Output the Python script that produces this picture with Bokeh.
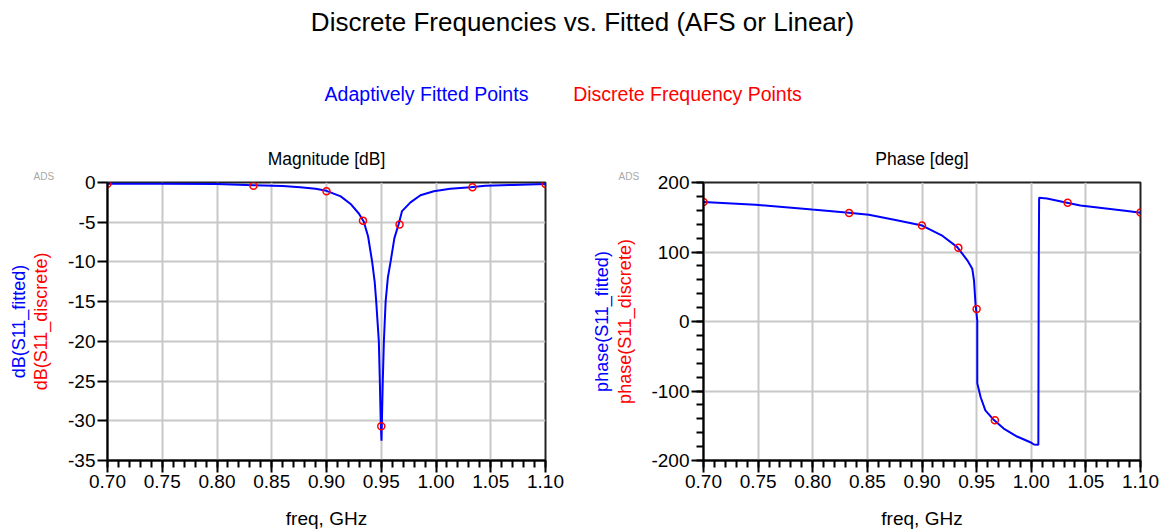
import math
from bokeh.plotting import figure
from bokeh.layouts import column, row
from bokeh.models import (Range1d, Label, Title, SingleIntervalTicker, PrintfTickFormatter)
from bokeh.embed import file_html
from bokeh.resources import INLINE

# ---------------- data ----------------
freq_fit_mag = [0.700, 0.750, 0.800, 0.833, 0.860, 0.876, 0.890, 0.900, 0.913, 0.922,
                0.9295, 0.934, 0.938, 0.9417, 0.944, 0.9454, 0.9478, 0.9487, 0.9495,
                0.9502, 0.9514, 0.9524, 0.954, 0.956, 0.9585, 0.962, 0.966, 0.969,
                0.9767, 0.9858, 0.998, 1.013, 1.0315, 1.045, 1.070, 1.100]
mag_fit = [-0.15, -0.15, -0.2, -0.35, -0.45, -0.6, -0.8, -1.05, -1.75, -2.7,
           -3.9, -4.9, -6.8, -10.0, -12.5, -15.0, -20.0, -25.0, -30.0,
           -32.5, -25.0, -20.0, -15.0, -12.0, -10.0, -7.0, -5.2, -3.6,
           -2.5, -1.6, -1.1, -0.8, -0.6, -0.4, -0.3, -0.2]

freq_fit_ph = [0.700, 0.7476, 0.7995, 0.833, 0.8513, 0.8757, 0.9002, 0.918, 0.9323,
               0.9415, 0.946, 0.9476, 0.949, 0.9506, 0.9506, 0.9537, 0.958, 0.9656,
               0.9748, 0.987, 0.9991, 1.0025, 1.0065, 1.0068, 1.0072, 1.0144, 1.0327,
               1.045, 1.0723, 1.0878, 1.100]
phase_fit = [172, 168, 161, 156.5, 153.5, 146, 138, 124, 107,
             88, 76, 59, 25, 1, -89, -109, -128, -141.5,
             -154, -165.5, -173.7, -177, -177.5, 56, 178, 177, 171,
             167, 162, 159, 156.5]

freq_disc = [0.70, 0.8333, 0.90, 0.9333, 0.95, 0.9667, 1.0333, 1.10]
mag_disc = [-0.15, -0.4, -1.1, -4.8, -30.7, -5.3, -0.6, -0.2]
phase_disc = [172, 156, 138, 106, 18, -142, 171, 157]

x_ticks_interval = 0.05
title_text = "Discrete Frequencies vs. Fitted (AFS or Linear)"
legend_fit = "Adaptively Fitted Points"
legend_disc = "Discrete Frequency Points"

FONT = "Liberation Sans"
BLUE = "#0000ff"
RED = "#ff0000"

# ---------------- header ----------------
hdr = figure(width=1173, height=140, x_range=Range1d(0, 1173), y_range=Range1d(0, 140),
             output_backend="svg", toolbar_location=None, x_axis_type=None, y_axis_type=None,
             min_border=0, outline_line_color=None)
hdr.xgrid.visible = False
hdr.ygrid.visible = False
hdr.add_layout(Label(x=582, y=119, text=title_text, text_align="center", text_baseline="middle",
                     text_font=FONT, text_font_size="26px", text_color="#000000"))
hdr.add_layout(Label(x=426, y=47, text=legend_fit, text_align="center", text_baseline="middle",
                     text_font=FONT, text_font_size="19.5px", text_color=BLUE))
hdr.add_layout(Label(x=687, y=47, text=legend_disc, text_align="center", text_baseline="middle",
                     text_font=FONT, text_font_size="19.5px", text_color=RED))


def make_plot(width, bl, br, yr, y_interval, y_minor, fx, fy, dy, title, lab_fit, lab_disc,
              st_disc, st_fit, ads_off, ytick_len):
    p = figure(width=width, height=391, x_range=Range1d(0.70, 1.10), y_range=Range1d(*yr),
               output_backend="svg", toolbar_location=None, title=None,
               min_border_left=bl, min_border_right=br, min_border_top=42, min_border_bottom=71)
    p.xaxis.ticker = SingleIntervalTicker(interval=x_ticks_interval, num_minor_ticks=5)
    p.xaxis.formatter = PrintfTickFormatter(format="%.2f")
    p.yaxis.ticker = SingleIntervalTicker(interval=y_interval, num_minor_ticks=y_minor)
    p.yaxis.formatter = PrintfTickFormatter(format="%d")
    for ax in (p.xaxis[0], p.yaxis[0]):
        ax.axis_line_color = "#000000"
        ax.axis_line_width = 2
        ax.major_tick_line_color = "#000000"
        ax.major_tick_line_width = 2
        ax.minor_tick_line_color = "#000000"
        ax.minor_tick_line_width = 2
        ax.major_tick_in = 0
        ax.minor_tick_in = 0
        ax.major_label_text_font = FONT
        ax.major_label_text_font_size = "19px"
        ax.major_label_text_color = "#000000"
    p.xaxis.major_tick_out = 12
    p.xaxis.minor_tick_out = 7
    p.xaxis.major_label_standoff = 2
    p.xaxis.axis_label = "freq, GHz"
    p.xaxis.axis_label_text_font = FONT
    p.xaxis.axis_label_text_font_size = "19px"
    p.xaxis.axis_label_text_font_style = "normal"
    p.xaxis.axis_label_text_color = "#000000"
    p.xaxis.axis_label_standoff = 17
    p.yaxis.major_tick_out = ytick_len
    p.yaxis.minor_tick_out = 7
    p.yaxis.major_label_standoff = 2
    # red (discrete) y label as the axis label, blue (fitted) one further out
    p.yaxis.axis_label = lab_disc
    p.yaxis.axis_label_text_font = FONT
    p.yaxis.axis_label_text_font_size = "18px"
    p.yaxis.axis_label_text_font_style = "normal"
    p.yaxis.axis_label_text_color = RED
    p.yaxis.axis_label_standoff = st_disc
    p.xgrid.grid_line_color = "#c8c8c8"
    p.ygrid.grid_line_color = "#c8c8c8"
    p.xgrid.grid_line_width = 2
    p.ygrid.grid_line_width = 2
    p.outline_line_color = "#222222"
    p.outline_line_width = 2

    p.line(fx, fy, line_color=BLUE, line_width=2)
    p.scatter(freq_disc, dy, marker="circle", size=7, line_color=RED, line_width=1.5,
              fill_color=None)

    # small grey "ADS" tag just outside the top-left corner
    p.add_layout(Title(text="ADS", align="left", offset=ads_off, text_font=FONT,
                       text_font_size="10px", text_font_style="normal", text_color="#a8a8a8",
                       standoff=1), "above")
    p.add_layout(Title(text=title, align="center", text_font=FONT, text_font_size="17.5px",
                       text_font_style="normal", text_color="#000000", standoff=0), "above")
    p.add_layout(Title(text=lab_fit, align="center", text_font=FONT, text_font_size="18px",
                       text_font_style="normal", text_color=BLUE, standoff=st_fit), "left")
    return p


p1 = make_plot(586, 107, 41, (-35, 0), 5, 0, freq_fit_mag, mag_fit, mag_disc,
               "Magnitude [dB]", "dB(S11_fitted)", "dB(S11_discrete)", 14, 0, -74, 10)
p2 = make_plot(587, 117, 33, (-200, 200), 100, 5, freq_fit_ph, phase_fit, phase_disc,
               "Phase [deg]", "phase(S11_fitted)", "phase(S11_discrete)", 13, 2, -85, 12)

layout = column(hdr, row(p1, p2))
open("out.html", "w").write(file_html(layout, INLINE))
